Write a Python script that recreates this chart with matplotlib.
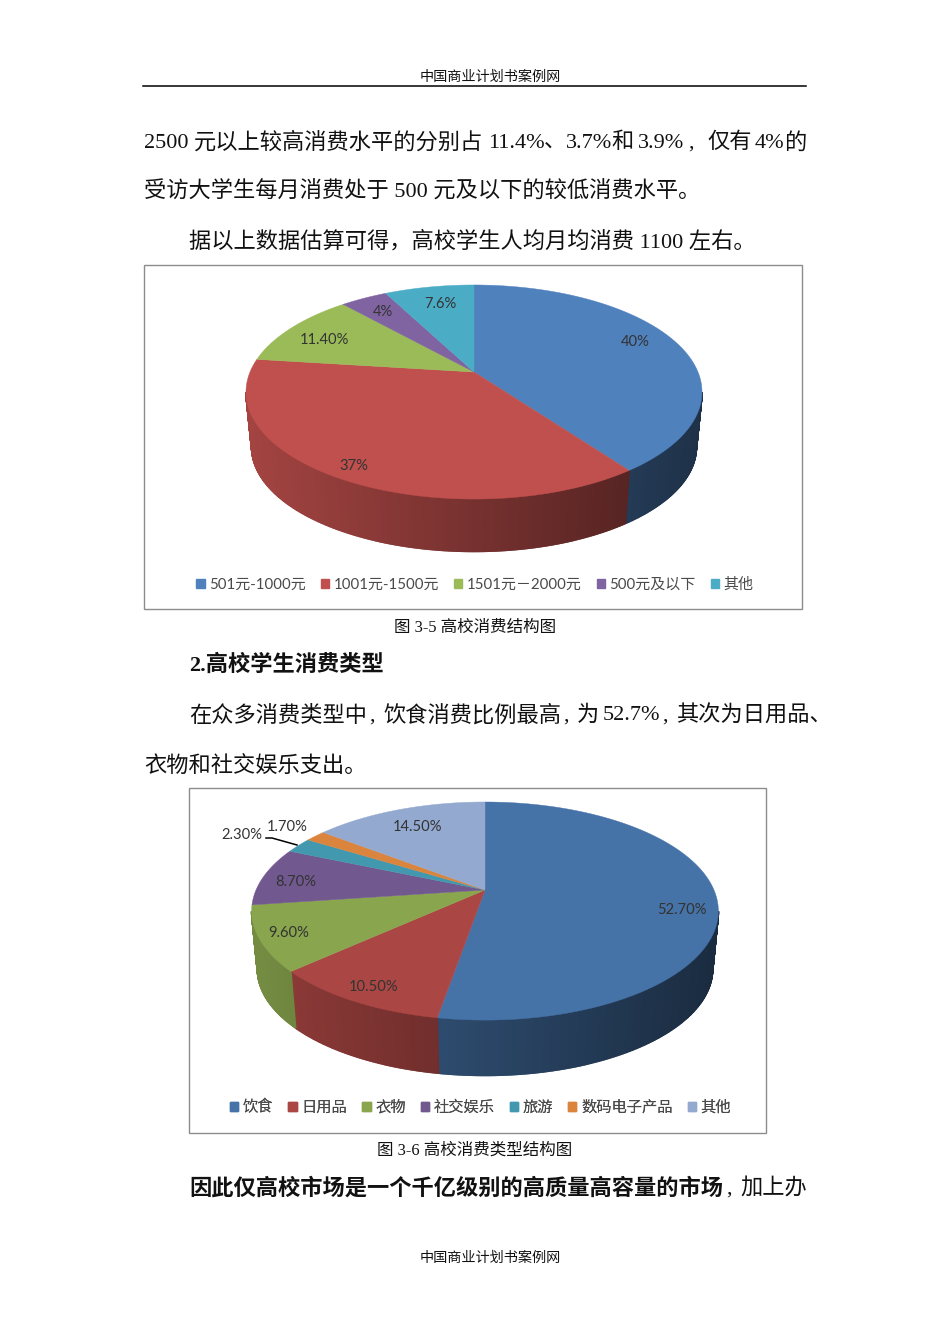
import numpy as np
import matplotlib
matplotlib.use('Agg')
import matplotlib.pyplot as plt
from matplotlib.patches import Patch, Rectangle

# chart 3-5
names1 = ['501元-1000元', '1001元-1500元', '1501元－2000元', '500元及以下', '其他']
vals1 = [40, 37, 11.4, 4, 7.6]
labs1 = ['40%', '37%', '11.40%', '4%', '7.6%']
cols1 = ['#4F81BD', '#C0504D', '#9BBB59', '#8064A2', '#4BACC6']

# chart 3-6
names2 = ['饮食', '日用品', '衣物', '社交娱乐', '旅游', '数码电子产品', '其他']
vals2 = [52.7, 10.5, 9.6, 8.7, 2.3, 1.7, 14.5]
labs2 = ['52.70%', '10.50%', '9.60%', '8.70%', '2.30%', '1.70%', '14.50%']
cols2 = ['#4572A7', '#AA4643', '#89A54E', '#71588F', '#4198AF', '#DB843D', '#93A9CF']

serif = ['Liberation Serif', 'Noto Sans CJK SC']
sans = ['Lato', 'Noto Sans CJK SC']

fig = plt.figure(figsize=(9.5, 13.44), dpi=100)
ax = fig.add_axes([0, 0, 1, 1])
ax.set_xlim(0, 950)
ax.set_ylim(1344, 0)
ax.axis('off')


def project(th, p):
    # tilted disc, so the apex sits above the middle of the ellipse
    w = 1 + p['k'] * np.cos(th)
    return p['cx'] + p['b'] * np.sin(th) / w, p['cy'] - p['a'] * np.cos(th) / w


def lower(x, y, p):
    return p['cx'] + 0.975 * (x - p['cx']), p['ey'] + 0.975 * (y - p['ey']) + p['dz']


def shade(col, f):
    return np.array(matplotlib.colors.to_rgb(col)) * f


def pie3d(vals, cols, p):
    edges = np.radians(np.concatenate([[0], np.cumsum(vals)]) * 3.6)
    side = np.arccos(-p['k'])
    # walls first, only between the two silhouette points
    for i, col in enumerate(cols):
        lo, hi = max(edges[i], side), min(edges[i + 1], 2 * np.pi - side)
        if hi <= lo:
            continue
        steps = np.linspace(lo, hi, max(2, int(np.degrees(hi - lo) / 0.4) + 2))
        for t0, t1 in zip(steps[:-1], steps[1:]):
            x0, y0 = project(t0, p)
            x1, y1 = project(t1, p)
            x2, y2 = lower(x1, y1, p)
            x3, y3 = lower(x0, y0, p)
            pos = (0.5 * (x0 + x1) - (p['cx'] - p['rx'])) / (2 * p['rx'])
            c = shade(col, 0.85 - 0.47 * pos)
            ax.fill([x0, x1, x2, x3], [y0, y1, y2, y3], color=c, lw=1.2, zorder=2)
    # top face
    for i, col in enumerate(cols):
        th = np.linspace(edges[i], edges[i + 1], 100)
        x, y = project(th, p)
        ax.fill(np.r_[p['cx'], x], np.r_[p['cy'], y], color=col, lw=0.3, zorder=3)


def frame(x0, y0, x1, y1):
    ax.add_patch(Rectangle((x0, y0), x1 - x0, y1 - y0, fc='white', ec='#8C8C8C', lw=1.0, zorder=1))


def legend(names, cols, cx, cy, size, gap):
    h = [Patch(color=c) for c in cols]
    leg = ax.legend(h, names, ncol=len(names), loc='center', bbox_to_anchor=(cx, cy),
                    bbox_transform=ax.transData, frameon=False,
                    handlelength=0.55, handleheight=0.55, handletextpad=0.3,
                    columnspacing=gap, borderpad=0, prop={'family': sans, 'size': size})
    for t in leg.get_texts():
        t.set_color('#4A4A4A')
    ax.add_artist(leg)


def body(x, y, s, size=16, weight='normal', ha='left'):
    ax.text(x, y, s, family=serif, fontsize=size, weight=weight, ha=ha, va='center', color='#111111')


# page text
body(490, 77, '中国商业计划书案例网', size=10.2, ha='center')
ax.plot([143, 806], [86, 86], color='black', lw=1.1)
for x, s in [(144, '2500'), (194, '元以上较高消费水平的分别占'), (488, '11.4%'), (544, '、'),
             (566, '3.7%'), (611, '和'), (638, '3.9%'), (688, ','), (707, '仅有'),
             (755, '4%'), (784, '的')]:
    body(x, 143, s)
body(144, 192, '受访大学生每月消费处于 500 元及以下的较低消费水平。')
body(189, 242, '据以上数据估算可得，高校学生人均月均消费 1100 左右。')
body(475, 628, '图 3-5 高校消费结构图', size=11.9, ha='center')
body(189, 665, '2.高校学生消费类型', weight='bold')
for x, s in [(189, '在众多消费类型中'), (369, ','), (383, '饮食消费比例最高'), (563, ','),
             (577, '为'), (603, '52.7%'), (662, ','), (676, '其次为日用品、')]:
    body(x, 716, s)
body(144, 767, '衣物和社交娱乐支出。')
body(475, 1151, '图 3-6 高校消费类型结构图', size=11.9, ha='center')
body(189, 1189, '因此仅高校市场是一个千亿级别的高质量高容量的市场', weight='bold')
body(726, 1189, ',')
body(740, 1189, '加上办')
body(490, 1258, '中国商业计划书案例网', size=10.2, ha='center')

# first chart
frame(144, 265, 802, 609)
p1 = dict(cx=474, cy=372, a=103.3, b=224, k=0.187, rx=228, ey=392, dz=55)
pie3d(vals1, cols1, p1)
pos1 = [(635, 342), (354, 466), (324, 340), (383, 312), (440, 304)]
for (x, y), s in zip(pos1, labs1):
    ax.text(x, y, s, family=sans, fontsize=10.6, color='#333333', ha='center', va='center', zorder=5)
legend(names1, cols1, 475, 585, 10.8, 1.0)

# second chart
frame(189, 788, 766, 1133)
p2 = dict(cx=485, cy=890, a=105, b=229, k=0.193, rx=233.5, ey=911, dz=58)
pie3d(vals2, cols2, p2)
pos2 = [(682, 910), (374, 987), (289, 933), (296, 882), (242, 835), (287, 827), (418, 827)]
for (x, y), s in zip(pos2, labs2):
    ax.text(x, y, s, family=sans, fontsize=10.6, color='#333333', ha='center', va='center', zorder=5)
ax.plot([266, 272, 297], [838, 838, 845], color='black', lw=1.1, zorder=5)
legend(names2, cols2, 480.5, 1107, 11, 0.98)

fig.savefig('out.png', dpi=100)
